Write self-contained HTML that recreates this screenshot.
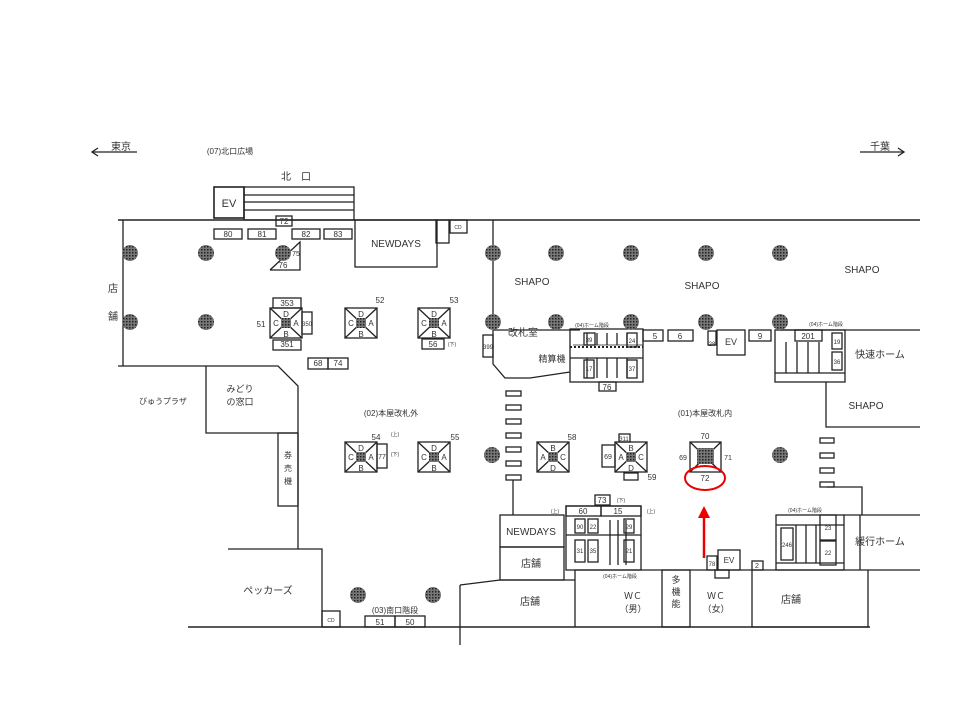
<!DOCTYPE html>
<html><head><meta charset="utf-8"><style>
html,body{margin:0;padding:0;background:#fff;}
svg{display:block;font-family:"Liberation Sans","Noto Sans CJK JP",sans-serif;}
</style></head><body>
<svg width="960" height="720" viewBox="0 0 960 720" xmlns="http://www.w3.org/2000/svg">
<defs>
<pattern id="h" width="3" height="3" patternUnits="userSpaceOnUse"><rect width="3" height="3" fill="#777"/><rect width="1.5" height="1.5" fill="#222"/></pattern>
</defs>
<g stroke="#222" stroke-width="1.3" fill="none">
<line x1="92" y1="152" x2="137" y2="152"/><polyline points="98,148 92,152 98,156"/>
<line x1="860" y1="152" x2="904" y2="152"/><polyline points="898,148 904,152 898,156"/>
<rect x="214" y="187" width="30" height="31" stroke-width="1.6"/>
<rect x="244" y="187" width="110" height="33"/>
<line x1="244" y1="195" x2="354" y2="195"/><line x1="244" y1="202" x2="354" y2="202"/><line x1="244" y1="210" x2="354" y2="210"/>
<line x1="118" y1="220" x2="920" y2="220" stroke-width="1.6"/>
<line x1="123" y1="220" x2="123" y2="366"/>
<polyline points="118,366 278,366 298,386 298,549"/>
<polyline points="206,366 206,433 298,433"/>
<rect x="278" y="433" width="20" height="73"/>
<polyline points="228,549 322,549 322,627"/>
<line x1="188" y1="627" x2="460" y2="627" stroke-width="1.5"/>
<rect x="322" y="611" width="18" height="16"/>
<rect x="365" y="616" width="30" height="11"/><rect x="395" y="616" width="30" height="11"/>
<rect x="355" y="220" width="82" height="47"/>
<rect x="436" y="220" width="13" height="23"/><rect x="450" y="220" width="17" height="13"/>
<rect x="214" y="229" width="28" height="10"/><rect x="248" y="229" width="28" height="10"/>
<rect x="292" y="229" width="28" height="10"/><rect x="324" y="229" width="28" height="10"/>
<rect x="276" y="216" width="16" height="10"/>
<polyline points="270,270 300,270 300,242 270,270"/>
<rect x="308" y="358" width="20" height="11"/><rect x="328" y="358" width="20" height="11"/>
<rect x="422" y="339" width="22" height="10"/>
<rect x="273" y="298" width="28" height="10"/><rect x="273" y="340" width="28" height="10"/>
<rect x="302" y="312" width="10" height="22"/>
<line x1="493" y1="220" x2="493" y2="322"/>
<polyline points="493,330 580,330"/>
<polyline points="493,330 493,364 505,378 530,378 570,372"/>
<rect x="483" y="335" width="10" height="22"/>
<rect x="570" y="329" width="73" height="53"/>
<line x1="570" y1="358" x2="643" y2="358"/>
<line x1="570" y1="347" x2="643" y2="347" stroke-dasharray="2,2" stroke-width="2"/>
<line x1="573" y1="345" x2="643" y2="345" stroke-width="0.8"/>
<line x1="587" y1="358" x2="587" y2="378"/><line x1="597" y1="358" x2="597" y2="378"/><line x1="607" y1="358" x2="607" y2="378"/><line x1="617" y1="358" x2="617" y2="378"/><line x1="627" y1="358" x2="627" y2="378"/>
<line x1="587" y1="333" x2="587" y2="345"/><line x1="597" y1="333" x2="597" y2="345"/><line x1="607" y1="333" x2="607" y2="345"/><line x1="617" y1="333" x2="617" y2="345"/><line x1="627" y1="333" x2="627" y2="345"/>
<rect x="584" y="333" width="11" height="12"/><rect x="627" y="333" width="10" height="14"/>
<rect x="584" y="360" width="10" height="18"/><rect x="627" y="360" width="10" height="18"/>
<rect x="599" y="382" width="17" height="9"/>
<rect x="643" y="330" width="20" height="11"/><rect x="668" y="330" width="25" height="11"/>
<rect x="708" y="331" width="8" height="14"/><rect x="717" y="330" width="28" height="25"/>
<rect x="749" y="330" width="22" height="11"/>
<line x1="780" y1="330" x2="920" y2="330"/>
<rect x="775" y="330" width="70" height="52"/>
<line x1="775" y1="373" x2="845" y2="373"/>
<line x1="786" y1="342" x2="786" y2="373"/><line x1="797" y1="342" x2="797" y2="373"/><line x1="808" y1="342" x2="808" y2="373"/><line x1="819" y1="342" x2="819" y2="373"/>
<rect x="795" y="330" width="27" height="11"/>
<rect x="832" y="333" width="10" height="16"/><rect x="832" y="352" width="10" height="18"/>
<polyline points="826,382 826,427 920,427"/>
<rect x="506" y="391" width="15" height="5"/><rect x="506" y="405" width="15" height="5"/><rect x="506" y="419" width="15" height="5"/><rect x="506" y="433" width="15" height="5"/><rect x="506" y="447" width="15" height="5"/><rect x="506" y="461" width="15" height="5"/><rect x="506" y="475" width="15" height="5"/>
<line x1="513" y1="480" x2="513" y2="515"/>
<rect x="820" y="438" width="14" height="5"/><rect x="820" y="453" width="14" height="5"/><rect x="820" y="468" width="14" height="5"/><rect x="820" y="482" width="14" height="5"/>
<polyline points="827,487 862,487 862,515"/>
<rect x="500" y="515" width="64" height="32"/><rect x="500" y="547" width="64" height="33"/>
<polyline points="460,585 500,580 575,580"/>
<line x1="460" y1="585" x2="460" y2="645"/>
<line x1="460" y1="627" x2="870" y2="627" stroke-width="1.5"/>
<rect x="566" y="506" width="75" height="64"/>
<rect x="566" y="506" width="35" height="10"/><rect x="601" y="506" width="40" height="10"/>
<rect x="595" y="495" width="15" height="10"/>
<line x1="566" y1="535" x2="641" y2="535"/>
<line x1="610" y1="520" x2="610" y2="565"/><line x1="618" y1="520" x2="618" y2="565"/><line x1="626" y1="520" x2="626" y2="565"/>
<rect x="575" y="519" width="10" height="14"/><rect x="588" y="519" width="10" height="14"/><rect x="624" y="519" width="10" height="14"/>
<rect x="575" y="540" width="10" height="22"/><rect x="588" y="540" width="10" height="22"/><rect x="624" y="540" width="10" height="22"/>
<line x1="575" y1="570" x2="920" y2="570"/>
<line x1="575" y1="570" x2="575" y2="627"/>
<rect x="662" y="570" width="28" height="57"/>
<rect x="718" y="550" width="22" height="20"/><rect x="707" y="556" width="10" height="14"/>
<rect x="715" y="570" width="14" height="8"/>
<rect x="752" y="561" width="11" height="9"/>
<polyline points="752,570 752,627 868,627 868,570"/>
<rect x="776" y="515" width="68" height="55"/>
<line x1="776" y1="525" x2="844" y2="525"/><line x1="776" y1="563" x2="844" y2="563"/>
<line x1="796" y1="525" x2="796" y2="563"/><line x1="806" y1="525" x2="806" y2="563"/><line x1="816" y1="525" x2="816" y2="563"/>
<rect x="781" y="528" width="12" height="32"/>
<rect x="820" y="515" width="16" height="25"/><rect x="820" y="541" width="16" height="24"/>
<line x1="844" y1="515" x2="920" y2="515"/><line x1="860" y1="515" x2="860" y2="570"/>
<g transform="translate(270,308)"><rect width="32" height="30"/><line x1="0" y1="0" x2="32" y2="30"/><line x1="32" y1="0" x2="0" y2="30"/></g>
<g transform="translate(345,308)"><rect width="32" height="30"/><line x1="0" y1="0" x2="32" y2="30"/><line x1="32" y1="0" x2="0" y2="30"/></g>
<g transform="translate(418,308)"><rect width="32" height="30"/><line x1="0" y1="0" x2="32" y2="30"/><line x1="32" y1="0" x2="0" y2="30"/></g>
<g transform="translate(345,442)"><rect width="32" height="30"/><line x1="0" y1="0" x2="32" y2="30"/><line x1="32" y1="0" x2="0" y2="30"/></g>
<g transform="translate(418,442)"><rect width="32" height="30"/><line x1="0" y1="0" x2="32" y2="30"/><line x1="32" y1="0" x2="0" y2="30"/></g>
<g transform="translate(537,442)"><rect width="32" height="30"/><line x1="0" y1="0" x2="32" y2="30"/><line x1="32" y1="0" x2="0" y2="30"/></g>
<g transform="translate(615,442)"><rect width="32" height="30"/><line x1="0" y1="0" x2="32" y2="30"/><line x1="32" y1="0" x2="0" y2="30"/></g>
<rect x="377" y="444" width="10" height="24"/>
<rect x="602" y="445" width="13" height="22"/><rect x="619" y="434" width="11" height="8"/><rect x="624" y="473" width="14" height="7"/>
<g transform="translate(690,442)"><rect width="31" height="30"/><line x1="0" y1="0" x2="31" y2="30"/><line x1="31" y1="0" x2="0" y2="30"/></g>
</g>
<g fill="url(#h)">
<rect x="281" y="318" width="10" height="10"/><rect x="356" y="318" width="10" height="10"/><rect x="429" y="318" width="10" height="10"/>
<rect x="356" y="452" width="10" height="10"/><rect x="429" y="452" width="10" height="10"/><rect x="548" y="452" width="10" height="10"/><rect x="626" y="452" width="10" height="10"/>
<rect x="697" y="448" width="17" height="16"/>
<circle cx="130" cy="253" r="8"/><circle cx="206" cy="253" r="8"/><circle cx="283" cy="253" r="8"/><circle cx="493" cy="253" r="8"/><circle cx="556" cy="253" r="8"/><circle cx="631" cy="253" r="8"/><circle cx="706" cy="253" r="8"/><circle cx="780" cy="253" r="8"/>
<circle cx="130" cy="322" r="8"/><circle cx="206" cy="322" r="8"/><circle cx="493" cy="322" r="8"/><circle cx="556" cy="322" r="8"/><circle cx="631" cy="322" r="8"/><circle cx="706" cy="322" r="8"/><circle cx="780" cy="322" r="8"/>
<circle cx="492" cy="455" r="8"/><circle cx="780" cy="455" r="8"/>
<circle cx="358" cy="595" r="8"/><circle cx="433" cy="595" r="8"/>
</g>
<ellipse cx="705" cy="478" rx="20" ry="12" fill="none" stroke="#e00" stroke-width="2"/>
<line x1="704" y1="558" x2="704" y2="515" stroke="#e00" stroke-width="2.5"/>
<polygon points="698,518 704,506 710,518" fill="#e00"/>
<g fill="#333" font-size="8" text-anchor="middle">
<!-- gate letters -->
<text x="286" y="317">D</text><text x="286" y="337">B</text><text x="276" y="326">C</text><text x="296" y="326">A</text>
<text x="361" y="317">D</text><text x="361" y="337">B</text><text x="351" y="326">C</text><text x="371" y="326">A</text>
<text x="434" y="317">D</text><text x="434" y="337">B</text><text x="424" y="326">C</text><text x="444" y="326">A</text>
<text x="361" y="451">D</text><text x="361" y="471">B</text><text x="351" y="460">C</text><text x="371" y="460">A</text>
<text x="434" y="451">D</text><text x="434" y="471">B</text><text x="424" y="460">C</text><text x="444" y="460">A</text>
<text x="553" y="451">B</text><text x="553" y="471">D</text><text x="543" y="460">A</text><text x="563" y="460">C</text>
<text x="631" y="451">B</text><text x="631" y="471">D</text><text x="621" y="460">A</text><text x="641" y="460">C</text>
<text x="683" y="460" font-size="7">69</text><text x="728" y="460" font-size="7">71</text>
<text x="382" y="459" font-size="7">77</text><text x="307" y="326" font-size="6">350</text>
<text x="488" y="349" font-size="6">399</text><text x="608" y="459" font-size="7">69</text><text x="624" y="441" font-size="6">311</text>
<text x="589" y="342" font-size="6">39</text><text x="632" y="343" font-size="6">24</text><text x="589" y="371" font-size="6">17</text><text x="632" y="371" font-size="6">37</text>
<text x="837" y="344" font-size="6">19</text><text x="837" y="364" font-size="6">36</text>
<text x="787" y="547" font-size="6">246</text><text x="828" y="530" font-size="6">23</text><text x="828" y="555" font-size="6">22</text>
<text x="580" y="529" font-size="6">90</text><text x="593" y="529" font-size="6">22</text><text x="629" y="529" font-size="6">29</text>
<text x="580" y="553" font-size="6">31</text><text x="593" y="553" font-size="6">35</text><text x="629" y="553" font-size="6">21</text>
<text x="712" y="566" font-size="6">78</text><text x="712" y="346" font-size="6">28</text>
<text x="555" y="513" font-size="5">(上)</text><text x="651" y="513" font-size="5">(上)</text><text x="621" y="502" font-size="5">(下)</text>
<text x="395" y="436" font-size="5">(上)</text><text x="395" y="456" font-size="5">(下)</text><text x="452" y="346" font-size="5">(下)</text>
<text x="331" y="622" font-size="5">CD</text><text x="458" y="229" font-size="5">CD</text>
<!-- main text -->
<text x="121" y="150" font-size="10">東京</text>
<text x="230" y="154" font-size="8">(07)北口広場</text>
<text x="880" y="150" font-size="10">千葉</text>
<text x="296" y="180" font-size="10">北　口</text>
<text x="229" y="207" font-size="11">EV</text>
<text x="228" y="237">80</text><text x="262" y="237">81</text><text x="306" y="237">82</text><text x="338" y="237">83</text><text x="284" y="224">72</text>
<text x="283" y="268">76</text><text x="296" y="256" font-size="7">75</text>
<text x="396" y="247" font-size="10">NEWDAYS</text>
<text x="113" y="292" font-size="10">店</text><text x="113" y="320" font-size="10">舗</text>
<text x="287" y="306">353</text><text x="287" y="347">351</text><text x="261" y="327">51</text>
<text x="380" y="303">52</text><text x="454" y="303">53</text><text x="433" y="347">56</text>
<text x="318" y="366">68</text><text x="338" y="366">74</text>
<text x="163" y="404" font-size="8">びゅうプラザ</text>
<text x="240" y="392" font-size="9">みどり</text><text x="240" y="405" font-size="9">の窓口</text>
<text x="288" y="458" font-size="8">券</text><text x="288" y="471" font-size="8">売</text><text x="288" y="484" font-size="8">機</text>
<text x="391" y="416">(02)本屋改札外</text>
<text x="376" y="440">54</text><text x="455" y="440">55</text><text x="572" y="440">58</text><text x="652" y="480">59</text>
<text x="268" y="594" font-size="10">ペッカーズ</text>
<text x="395" y="613">(03)南口階段</text>
<text x="380" y="625">51</text><text x="410" y="625">50</text>
<text x="532" y="285" font-size="10">SHAPO</text>
<text x="702" y="289" font-size="10">SHAPO</text>
<text x="862" y="273" font-size="10">SHAPO</text>
<text x="866" y="409" font-size="10">SHAPO</text>
<text x="523" y="336" font-size="10">改札室</text>
<text x="552" y="362" font-size="9">精算機</text>
<text x="655" y="339">5</text><text x="680" y="339">6</text><text x="731" y="345" font-size="9">EV</text><text x="760" y="339">9</text><text x="808" y="339">201</text>
<text x="607" y="390">76</text>
<text x="880" y="358" font-size="10">快速ホーム</text>
<text x="880" y="545" font-size="10">緩行ホーム</text>
<text x="705" y="416">(01)本屋改札内</text>
<text x="705" y="439">70</text><text x="705" y="481">72</text>
<text x="531" y="535" font-size="10">NEWDAYS</text>
<text x="531" y="567" font-size="10">店舗</text>
<text x="530" y="605" font-size="10">店舗</text>
<text x="583" y="514">60</text><text x="618" y="514">15</text><text x="602" y="503">73</text>
<text x="633" y="599" font-size="9">ＷＣ</text><text x="633" y="612" font-size="9">（男）</text>
<text x="716" y="599" font-size="9">ＷＣ</text><text x="716" y="612" font-size="9">（女）</text>
<text x="676" y="583" font-size="9">多</text><text x="676" y="595" font-size="9">機</text><text x="676" y="607" font-size="9">能</text>
<text x="729" y="563" font-size="8">EV</text><text x="757" y="568" font-size="7">2</text>
<text x="791" y="603" font-size="10">店舗</text>
<text x="620" y="578" font-size="5">(04)ホーム階段</text>
<text x="826" y="326" font-size="5">(04)ホーム階段</text>
<text x="805" y="512" font-size="5">(04)ホーム階段</text>
<text x="592" y="327" font-size="5">(04)ホーム階段</text>
</g>
</svg>
</body></html>
